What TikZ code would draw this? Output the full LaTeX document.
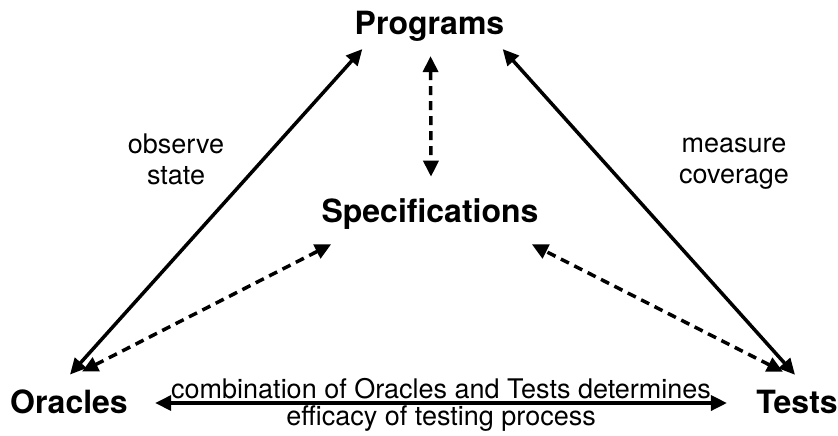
\documentclass[tikz,border=0pt]{standalone}
\usepackage{fontspec}
\setmainfont{TeX Gyre Heros}
\usetikzlibrary{
  arrows.meta % for the Triangle arrow tips
}
\tikzset{
  concept/.style={ % style for the four main concepts
    font=\fontsize{16}{19}\selectfont\bfseries, % large bold text
    inner sep=0pt, % anchors sit right on the text
  },
  note/.style={ % style for the labels of the connections
    font=\fontsize{13.5}{15.5}\selectfont,
    align=center, % two-line labels are centred
    inner sep=1pt,
  },
  link/.style={ % style for the solid connections
    {Triangle[length=8pt,width=7.5pt]}-{Triangle[length=8pt,width=7.5pt]}, % filled tips at both ends
    line width=1.75pt,
  },
  weaklink/.style={ % style for the dashed connections
    link, % inherit the link style
    dash pattern=on 4.5pt off 3pt,
  },
}

\begin{document}
\begin{tikzpicture}[x=0.5pt,y=-0.5pt]
  \useasboundingbox (0,0) rectangle (838,435);

  \node[concept] (programs) at (429.5,26.5) {Programs};
  \node[concept] (specs) at (430,214.5) {Specifications};
  \node[concept] (oracles) at (69,402) {Oracles};
  \node[concept] (tests) at (797,402) {Tests};

  \node[note] (observe) at (176,159) {observe\\state};
  \node[note] (measure) at (734,164) {measure\\coverage};

  \draw[link] ([shift={(1,-15)}]oracles.north) -- ([shift={(8,7)}]programs.south west);
  \draw[link] ([shift={(-2,7)}]programs.south east) -- ([shift={(-2,-15)}]tests.north);
  \draw[weaklink] ([shift={(1,14)}]programs.south) -- ([shift={(1,-22)}]specs.north);
  \draw[weaklink] ([shift={(13,-18)}]oracles.north) -- ([shift={(10,14)}]specs.south west);
  \draw[weaklink] ([shift={(-14,-18)}]tests.north) -- ([shift={(-7,14)}]specs.south east);

  \draw[link] ([shift={(27,1)}]oracles.east) --
    node[note,above] (combo) {combination of Oracles and Tests determines}
    node[note,below,inner sep=0.5pt] (efficacy) {efficacy of testing process}
    ([shift={(-29,1)}]tests.west);
\end{tikzpicture}
\end{document}
